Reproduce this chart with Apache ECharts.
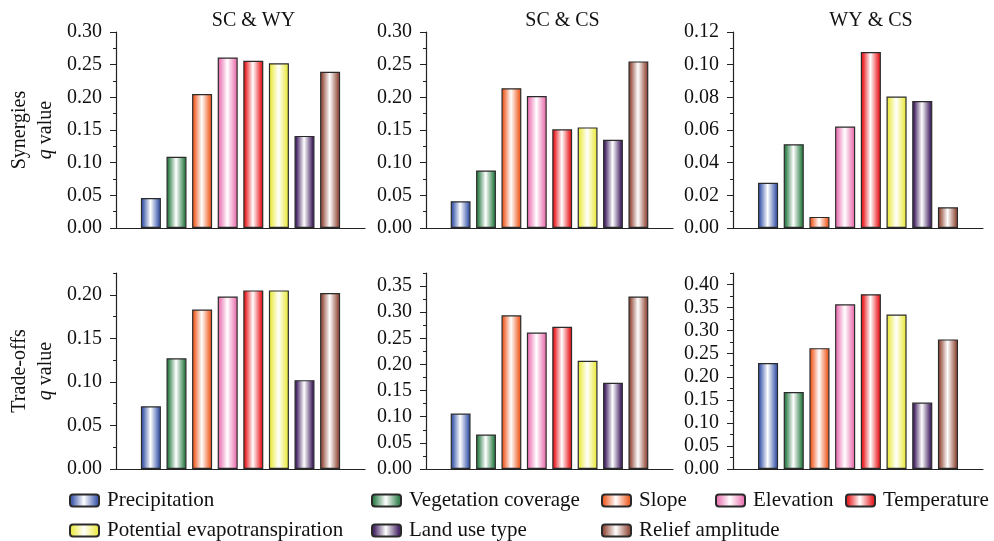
<!DOCTYPE html>
<html>
<head>
<meta charset="utf-8">
<script src="https://cdn.jsdelivr.net/npm/echarts@6/dist/echarts.min.js"></script>
<style>
  html, body { margin: 0; padding: 0; background: #fff; }
  #chart { width: 994px; height: 541px; }
</style>
</head>
<body>
<div id="chart"></div>
<script>
// factors (one bar each, same order in every panel)
var factors = ['Precipitation', 'Vegetation coverage', 'Slope', 'Elevation', 'Temperature',
    'Potential evapotranspiration', 'Land use type', 'Relief amplitude'];
var factorColors = ['#4560b0', '#378450', '#f0652e', '#ec7cb6', '#ea2428', '#ecec4e', '#4a2a68', '#985444'];

var panelTitles = ['SC & WY', 'SC & CS', 'WY & CS'];
var rowNames = ['Synergies', 'Trade-offs'];

// q values
var synScWy = [0.046, 0.109, 0.205, 0.261, 0.256, 0.252, 0.141, 0.239];
var synScCs = [0.041, 0.088, 0.214, 0.202, 0.151, 0.154, 0.135, 0.255];
var synWyCs = [0.0277, 0.0513, 0.0068, 0.0621, 0.1078, 0.0805, 0.0778, 0.0127];
var trdScWy = [0.072, 0.127, 0.183, 0.198, 0.205, 0.205, 0.102, 0.202];
var trdScCs = [0.106, 0.066, 0.294, 0.261, 0.272, 0.207, 0.165, 0.330];
var trdWyCs = [0.230, 0.167, 0.262, 0.357, 0.379, 0.335, 0.144, 0.281];

// y axis top and label step per panel
var yMax = [0.30, 0.30, 0.12, 0.225, 0.375, 0.425];
var yStep = [0.05, 0.05, 0.02, 0.05, 0.05, 0.05];

var panelValues = [synScWy, synScCs, synWyCs, trdScWy, trdScCs, trdWyCs];

var FONT = 'Liberation Serif';
var gridLeft = [116, 426, 733];
var gridWidth = [249, 247, 250];
var gridTop = [32, 273];
var gridHeight = 196;

var myChart = echarts.init(document.getElementById('chart'), null, {renderer: 'canvas'});

function barFill(c) {
    return new echarts.graphic.LinearGradient(0, 0, 1, 0, [
        {offset: 0, color: c},
        {offset: 0.1, color: c},
        {offset: 0.48, color: '#ffffff'},
        {offset: 0.9, color: c},
        {offset: 1, color: c}
    ]);
}

function majors(p) {
    var out = [];
    var n = Math.floor(yMax[p] / yStep[p] + 1e-6);
    for (var k = 0; k <= n; k++) out.push(+(k * yStep[p]).toFixed(4));
    return out;
}

var grid = [], xAxis = [], yAxis = [], series = [], title = [];

for (var p = 0; p < 6; p++) {
    var col = p % 3, row = Math.floor(p / 3);
    grid.push({left: gridLeft[col], top: gridTop[row], width: gridWidth[col], height: gridHeight});
    xAxis.push({
        type: 'category', gridIndex: p, data: [''],
        axisLine: {lineStyle: {color: '#222', width: 1.2}},
        axisTick: {show: false}, axisLabel: {show: false}
    });
    (function (p) {
        var half = yStep[p] / 2;
        yAxis.push({
            type: 'value', gridIndex: p, position: 'left', min: 0, max: yMax[p], interval: half,
            axisLine: {show: true, lineStyle: {color: '#222', width: 1.2}},
            axisTick: {show: true, length: 3, lineStyle: {color: '#222'}},
            splitLine: {show: false},
            axisLabel: {
                color: '#111', fontFamily: FONT, fontSize: 20, margin: 14,
                formatter: function (v) {
                    return Math.round(v / half) % 2 === 0 ? v.toFixed(2) : '';
                }
            },
            name: col === 0 ? rowNames[row] + '\n{q|q} value' : '',
            nameLocation: 'middle', nameRotate: 90, nameGap: 57,
            nameTextStyle: {
                color: '#111', fontFamily: FONT, fontSize: 20, lineHeight: 26,
                rich: {q: {fontFamily: FONT, fontSize: 20, fontStyle: 'italic', color: '#111'}}
            }
        });
        yAxis.push({
            type: 'value', gridIndex: p, position: 'left', min: 0, max: yMax[p], interval: yStep[p],
            axisLine: {show: false}, splitLine: {show: false}, axisLabel: {show: false},
            axisTick: {show: true, length: 6, lineStyle: {color: '#222'}, customValues: majors(p)}
        });
    })(p);
    for (var i = 0; i < factors.length; i++) {
        series.push({
            name: factors[i], type: 'bar', xAxisIndex: p, yAxisIndex: p * 2,
            barGap: '28%', barCategoryGap: '20%',
            itemStyle: {color: barFill(factorColors[i]), borderColor: '#2a2a2a', borderWidth: 1.2},
            data: [panelValues[p][i]]
        });
    }
}

for (var c = 0; c < 3; c++) {
    title.push({
        text: panelTitles[c], left: gridLeft[c] + gridWidth[c] / 2 + 8, top: 6, textAlign: 'center',
        textStyle: {fontFamily: FONT, fontSize: 20, fontWeight: 'normal', color: '#111'}
    });
}

// legend placed item by item like the original two-row key
var legendPos = [[69, 490], [371, 490], [601, 490], [715, 490], [845, 490],
    [69, 520], [371, 520], [601, 520]];
var legend = factors.map(function (f, i) {
    return {
        data: [f], left: legendPos[i][0], top: legendPos[i][1], padding: 0,
        itemWidth: 29, itemHeight: 12, itemGap: 0, selectedMode: false,
        textStyle: {fontFamily: FONT, fontSize: 21, color: '#111', padding: [0, 0, 0, 3]}
    };
});

myChart.setOption({
    animation: false,
    backgroundColor: '#fff',
    title: title,
    legend: legend,
    grid: grid,
    xAxis: xAxis,
    yAxis: yAxis,
    series: series
});
</script>
</body>
</html>
